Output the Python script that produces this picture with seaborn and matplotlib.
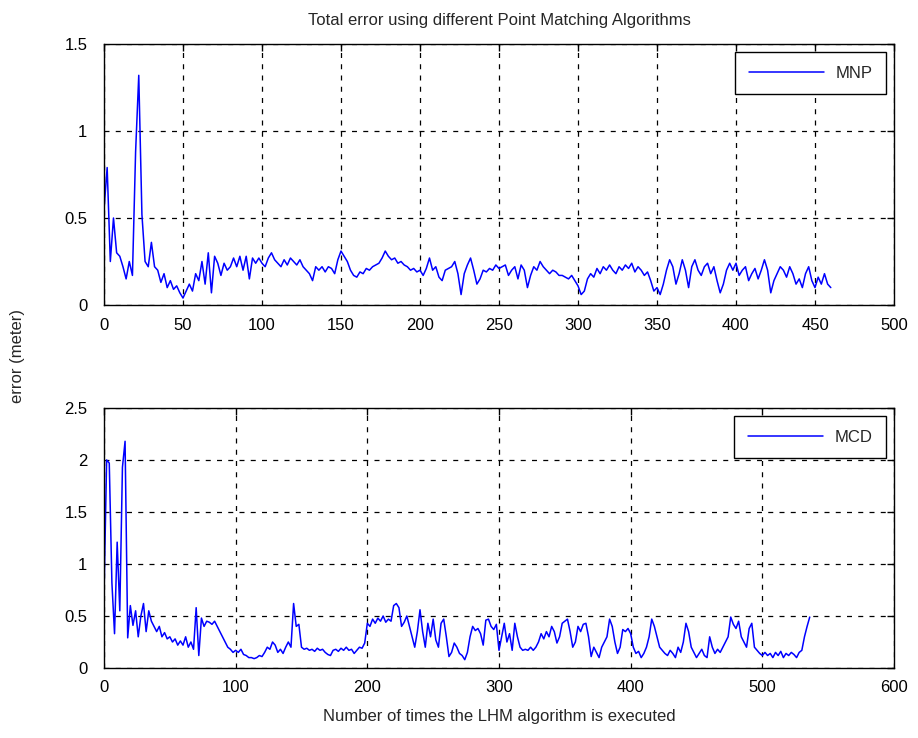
import numpy as np
import pandas as pd
import matplotlib
matplotlib.use("Agg")
import matplotlib.pyplot as plt
from matplotlib.ticker import FuncFormatter, MultipleLocator
import seaborn as sns

# ---------------- data (every 2nd run index) ----------------
mnp_step = 2
mnp_error = [
    0.55, 0.79, 0.25, 0.50, 0.30, 0.28, 0.22, 0.15, 0.25, 0.17,
    0.88, 1.32, 0.52, 0.25, 0.22, 0.36, 0.22, 0.20, 0.13, 0.18,
    0.10, 0.14, 0.09, 0.11, 0.07, 0.04, 0.08, 0.12, 0.08, 0.18,
    0.14, 0.25, 0.12, 0.30, 0.07, 0.28, 0.24, 0.17, 0.24, 0.20,
    0.22, 0.27, 0.22, 0.28, 0.20, 0.28, 0.15, 0.27, 0.24, 0.27,
    0.24, 0.22, 0.27, 0.30, 0.26, 0.24, 0.22, 0.26, 0.23, 0.27,
    0.25, 0.23, 0.26, 0.22, 0.20, 0.18, 0.14, 0.22, 0.20, 0.22,
    0.19, 0.22, 0.21, 0.18, 0.26, 0.31, 0.28, 0.25, 0.20, 0.17,
    0.16, 0.19, 0.18, 0.21, 0.20, 0.22, 0.23, 0.24, 0.27, 0.31,
    0.28, 0.26, 0.27, 0.24, 0.25, 0.23, 0.22, 0.20, 0.21, 0.19,
    0.20, 0.17, 0.21, 0.27, 0.20, 0.22, 0.16, 0.14, 0.20, 0.21,
    0.22, 0.25, 0.18, 0.06, 0.18, 0.23, 0.27, 0.20, 0.12, 0.15,
    0.20, 0.19, 0.21, 0.20, 0.23, 0.21, 0.22, 0.23, 0.17, 0.20,
    0.22, 0.15, 0.23, 0.20, 0.10, 0.17, 0.22, 0.20, 0.25, 0.22,
    0.20, 0.18, 0.20, 0.19, 0.17, 0.17, 0.16, 0.15, 0.17, 0.14,
    0.11, 0.06, 0.08, 0.15, 0.18, 0.16, 0.21, 0.18, 0.22, 0.20,
    0.23, 0.20, 0.18, 0.22, 0.20, 0.23, 0.21, 0.24, 0.19, 0.22,
    0.20, 0.17, 0.19, 0.14, 0.08, 0.10, 0.06, 0.12, 0.20, 0.26,
    0.22, 0.12, 0.18, 0.26, 0.20, 0.10, 0.22, 0.26, 0.20, 0.17,
    0.22, 0.24, 0.18, 0.22, 0.14, 0.07, 0.12, 0.20, 0.24, 0.20,
    0.24, 0.17, 0.20, 0.22, 0.14, 0.18, 0.21, 0.15, 0.20, 0.26,
    0.20, 0.07, 0.14, 0.18, 0.22, 0.20, 0.16, 0.22, 0.18, 0.12,
    0.15, 0.10, 0.18, 0.22, 0.14, 0.10, 0.16, 0.12, 0.18, 0.12,
    0.10,
]

mcd_step = 2
mcd_error = [
    0.70, 2.00, 1.97, 0.82, 0.33, 1.21, 0.55, 1.93, 2.18, 0.29,
    0.60, 0.41, 0.55, 0.30, 0.50, 0.62, 0.35, 0.55, 0.45, 0.40,
    0.35, 0.40, 0.30, 0.34, 0.28, 0.30, 0.25, 0.28, 0.22, 0.26,
    0.22, 0.30, 0.20, 0.25, 0.18, 0.58, 0.12, 0.48, 0.40, 0.45,
    0.44, 0.42, 0.45, 0.40, 0.35, 0.30, 0.25, 0.20, 0.18, 0.15,
    0.17, 0.15, 0.18, 0.13, 0.12, 0.10, 0.10, 0.09, 0.10, 0.12,
    0.11, 0.15, 0.20, 0.18, 0.25, 0.22, 0.15, 0.18, 0.14, 0.20,
    0.25, 0.20, 0.62, 0.40, 0.42, 0.20, 0.18, 0.19, 0.17, 0.18,
    0.16, 0.19, 0.17, 0.18, 0.15, 0.13, 0.12, 0.17, 0.18, 0.16,
    0.19, 0.17, 0.20, 0.17, 0.18, 0.14, 0.17, 0.20, 0.19, 0.24,
    0.43, 0.40, 0.47, 0.43, 0.48, 0.45, 0.50, 0.44, 0.47, 0.45,
    0.60, 0.62, 0.58, 0.40, 0.44, 0.50, 0.40, 0.30, 0.20, 0.35,
    0.56, 0.35, 0.20, 0.43, 0.30, 0.47, 0.27, 0.20, 0.43, 0.47,
    0.30, 0.11, 0.15, 0.24, 0.20, 0.14, 0.12, 0.08, 0.15, 0.30,
    0.40, 0.36, 0.38, 0.33, 0.22, 0.46, 0.47, 0.40, 0.37, 0.42,
    0.17, 0.30, 0.43, 0.25, 0.33, 0.17, 0.43, 0.30, 0.20, 0.17,
    0.18, 0.17, 0.20, 0.17, 0.20, 0.25, 0.33, 0.28, 0.35, 0.30,
    0.40, 0.35, 0.24, 0.30, 0.43, 0.45, 0.47, 0.35, 0.20, 0.25,
    0.40, 0.35, 0.42, 0.43, 0.30, 0.11, 0.20, 0.15, 0.10, 0.20,
    0.25, 0.30, 0.47, 0.40, 0.25, 0.14, 0.20, 0.37, 0.35, 0.38,
    0.33, 0.20, 0.14, 0.16, 0.10, 0.14, 0.20, 0.30, 0.47, 0.40,
    0.30, 0.20, 0.17, 0.14, 0.12, 0.17, 0.14, 0.10, 0.20, 0.15,
    0.25, 0.43, 0.35, 0.20, 0.15, 0.10, 0.14, 0.18, 0.12, 0.10,
    0.30, 0.20, 0.14, 0.18, 0.15, 0.20, 0.25, 0.30, 0.49, 0.42,
    0.38, 0.45, 0.30, 0.25, 0.20, 0.38, 0.43, 0.20, 0.17, 0.14,
    0.12, 0.15, 0.12, 0.14, 0.10, 0.15, 0.12, 0.16, 0.10, 0.14,
    0.12, 0.15, 0.13, 0.10, 0.15, 0.17, 0.30, 0.40, 0.49,
]

series_names = ["MNP", "MCD"]
title_text = "Total error using different Point Matching Algorithms"
x_label = "Number of times the LHM algorithm is executed"
y_label = "error (meter)"

# ---------------- style ----------------
sns.set_theme(style="white")
plt.rcParams["font.family"] = ["Liberation Sans", "DejaVu Sans"]
plt.rcParams["axes.edgecolor"] = "black"
plt.rcParams["axes.linewidth"] = 1.0
plt.rcParams["xtick.color"] = "black"
plt.rcParams["ytick.color"] = "black"

FS = 12

df_mnp = pd.DataFrame({"run": np.arange(len(mnp_error)) * mnp_step, "error": mnp_error})
df_mcd = pd.DataFrame({"run": np.arange(len(mcd_error)) * mcd_step, "error": mcd_error})

fig = plt.figure(figsize=(9.18, 7.38), dpi=100)
ax1 = fig.add_axes([104 / 918, 1 - 305 / 738, 790 / 918, 261 / 738])
ax2 = fig.add_axes([104 / 918, 1 - 668 / 738, 790 / 918, 260 / 738])

fmt = FuncFormatter(lambda v, p: "%g" % v)

for ax, df, name, xmax, xstep, ymax in [
    (ax1, df_mnp, series_names[0], 500, 50, 1.5),
    (ax2, df_mcd, series_names[1], 600, 100, 2.5),
]:
    sns.lineplot(data=df, x="run", y="error", ax=ax, color="#0000ff",
                 linewidth=1.1, label=name, estimator=None)
    ax.set_xlim(0, xmax)
    ax.set_ylim(0, ymax)
    ax.xaxis.set_major_locator(MultipleLocator(xstep))
    ax.yaxis.set_major_locator(MultipleLocator(0.5))
    ax.xaxis.set_major_formatter(fmt)
    ax.yaxis.set_major_formatter(fmt)
    ax.set_xlabel("")
    ax.set_ylabel("")
    ax.grid(True, color="black", linestyle=(0, (4, 5)), linewidth=0.9)
    ax.tick_params(axis="both", which="major", direction="in", length=5,
                   width=1, top=True, right=True, labelsize=FS)
    ax.tick_params(axis="x", pad=9)
    ax.tick_params(axis="y", pad=12)
    for s in ax.spines.values():
        s.set_visible(True)
        s.set_color("black")
        s.set_linewidth(1.0)
    leg = ax.legend(loc="upper right", fontsize=FS, frameon=True, fancybox=False,
                    framealpha=1, edgecolor="black", handlelength=4.5,
                    borderaxespad=0.5, borderpad=0.8, handletextpad=0.7)
    leg.get_frame().set_linewidth(1.0)

ax1.set_title(title_text, fontsize=FS, pad=14)
ax2.set_xlabel(x_label, fontsize=FS, labelpad=10)
fig.text(18 / 918, 1 - 356 / 738, y_label, rotation=90, fontsize=FS,
         ha="center", va="center")

fig.savefig("out.png", dpi=100, facecolor="white")
